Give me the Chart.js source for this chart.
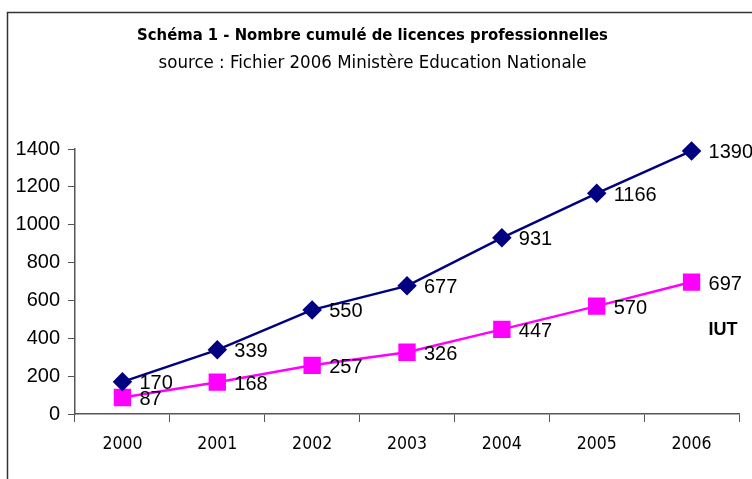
<!DOCTYPE html>
<html>
<head>
<meta charset="utf-8">
<script src="https://cdn.jsdelivr.net/npm/chart.js@4/dist/chart.umd.min.js"></script>
<style>
  html, body { margin: 0; padding: 0; background: #fff; overflow: hidden; }
  #wrap { width: 752px; height: 479px; }
</style>
</head>
<body>
<div id="wrap"><canvas id="chart" width="752" height="479"></canvas></div>
<script>
const years = ['2000', '2001', '2002', '2003', '2004', '2005', '2006'];
const totalLicences = [170, 339, 550, 677, 931, 1166, 1390];
const iutLicences = [87, 168, 257, 326, 447, 570, 697];
const yTicks = [0, 200, 400, 600, 800, 1000, 1200, 1400];

const narrow = '"Liberation Sans Narrow", "Arial Narrow", "DejaVu Sans Condensed", Arial, sans-serif';
const sans = '"Liberation Sans", Arial, sans-serif';

// frame around the chart + point labels + IUT tag
const extras = {
    id: 'extras',
    beforeDraw(chart) {
        const ctx = chart.ctx;
        ctx.save();
        ctx.strokeStyle = '#333';
        ctx.lineWidth = 1.5;
        ctx.strokeRect(7.5, 12.5, 900, 600);
        ctx.restore();
    },
    afterDatasetsDraw(chart) {
        const ctx = chart.ctx;
        ctx.save();
        ctx.fillStyle = '#000';
        ctx.font = '20px ' + sans;
        ctx.textAlign = 'left';
        ctx.textBaseline = 'middle';
        chart.data.datasets.forEach((ds, i) => {
            chart.getDatasetMeta(i).data.forEach((pt, j) => {
                ctx.fillText(String(ds.data[j]), pt.x + 17, pt.y + 2);
            });
        });
        const y = chart.scales.y;
        const last = chart.getDatasetMeta(1).data[years.length - 1];
        ctx.font = 'bold 18px ' + sans;
        ctx.fillText('IUT', last.x + 17, y.getPixelForValue(445));
        ctx.restore();
    }
};

const ctx = document.getElementById('chart').getContext('2d');
new Chart(ctx, {
    type: 'line',
    data: {
        labels: years,
        datasets: [
            {
                label: 'Total',
                data: totalLicences,
                borderColor: '#000080',
                backgroundColor: '#000080',
                borderWidth: 2.5,
                pointStyle: 'rectRot',
                pointRadius: 8,
                pointHoverRadius: 8,
                tension: 0,
                clip: false
            },
            {
                label: 'IUT',
                data: iutLicences,
                borderColor: '#FF00FF',
                backgroundColor: '#FF00FF',
                borderWidth: 2.5,
                pointStyle: 'rect',
                pointRadius: 10.5,
                pointHoverRadius: 10.5,
                tension: 0,
                clip: false
            }
        ]
    },
    options: {
        responsive: false,
        animation: false,
        events: [],
        layout: { padding: { left: 0, right: 7, top: 0, bottom: 0 } },
        plugins: {
            legend: { display: false },
            tooltip: { enabled: false },
            title: {
                display: true,
                text: 'Schéma 1 - Nombre cumulé de licences professionnelles',
                color: '#000',
                font: { family: narrow, size: 16.5, weight: 'bold' },
                padding: { top: 26, bottom: 0 }
            },
            subtitle: {
                display: true,
                text: 'source : Fichier 2006 Ministère Education Nationale',
                color: '#000',
                font: { family: narrow, size: 18.5 },
                padding: { top: 6, bottom: 75 }
            }
        },
        scales: {
            x: {
                offset: true,
                grid: { display: true, offset: true, drawOnChartArea: false, drawTicks: true, tickLength: 8, color: '#555', lineWidth: 1 },
                border: { display: true, color: '#555', width: 1.5 },
                ticks: { color: '#000', font: { family: narrow, size: 17.5 }, padding: 12, maxRotation: 0 },
                afterFit(scale) { scale.height = 65; }
            },
            y: {
                min: 0,
                max: 1400,
                afterBuildTicks(scale) { scale.ticks = yTicks.map(v => ({ value: v })); },
                grid: { display: true, drawOnChartArea: false, drawTicks: true, tickLength: 7, color: '#555', lineWidth: 1 },
                border: { display: true, color: '#555', width: 1.5 },
                ticks: { color: '#000', font: { family: sans, size: 20 }, padding: 8, callback: v => String(v) },
                afterFit(scale) { scale.width = 75; }
            }
        }
    },
    plugins: [extras]
});
</script>
</body>
</html>
